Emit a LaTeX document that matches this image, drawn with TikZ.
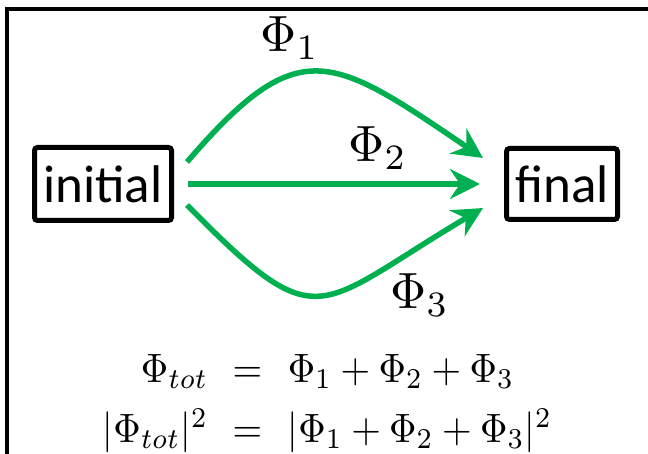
\documentclass[tikz,border=0pt]{standalone}
\usepackage[no-math]{fontspec}
\newfontfamily\calibri{Carlito}
\usetikzlibrary{arrows.meta,calc}
\definecolor{offgreen}{RGB}{0,176,80}
\tikzset{
  statebox/.style={draw=black, line width=5pt, rounded corners=3pt, inner sep=0pt,
    font=\calibri\fontsize{53}{60}\selectfont},
  path/.style={draw=offgreen, line width=5.5pt, -{Stealth[length=30pt,width=30pt,inset=10pt]}},
  philabel/.style={inner sep=0pt, anchor=base west, xscale=5, yscale=5.1},
  eqtext/.style={inner sep=0pt, xscale=3.8, yscale=4.1},
  frameline/.style={line width=3.5pt, draw=black}
}
\begin{document}
\begin{tikzpicture}[x=1pt,y=-1pt]
\useasboundingbox (0,0) rectangle (648,454);
\draw[frameline] (7,454) -- (7,9) -- (648,9);
\node[statebox, minimum width=137pt, minimum height=73pt] (init) at (103,184) {initial};
\node[statebox, minimum width=111pt, minimum height=71pt] (fin) at (562,184) {final};
\coordinate (s1) at ($(init.east)+(13,-22)$);
\coordinate (s2) at ($(init.east)+(14,0)$);
\coordinate (s3) at ($(init.east)+(13,21)$);
\coordinate (e1) at ($(fin.west)+(-21,-26)$);
\coordinate (e2) at ($(fin.west)+(-24,0)$);
\coordinate (e3) at ($(fin.west)+(-21,24)$);
\draw[path] (s1) .. controls (299,32) and (330,54) .. (e1);
\draw[path] (s2) -- (e2);
\draw[path] (s3) .. controls (321,341) and (314,308) .. (e3);
\node[philabel] (p1) at (259.5,52) {$\Phi_1$};
\node[philabel] (p2) at (347.5,162) {$\Phi_2$};
\node[philabel] (p3) at (389.5,309) {$\Phi_3$};
\node[eqtext, anchor=base east] (l1) at (209,382) {$\Phi_{tot}$};
\node[eqtext, anchor=base] (q1) at (247.5,382) {$=$};
\node[eqtext, anchor=base west] (r1) at (287,382) {$\Phi_1+\Phi_2+\Phi_3$};
\node[eqtext, anchor=base east] (l2) at (209,442.5) {$|\Phi_{tot}|^2$};
\node[eqtext, anchor=base] (q2) at (247.5,442.5) {$=$};
\node[eqtext, anchor=base west] (r2) at (287,442.5) {$|\Phi_1+\Phi_2+\Phi_3|^2$};
\end{tikzpicture}
\end{document}
